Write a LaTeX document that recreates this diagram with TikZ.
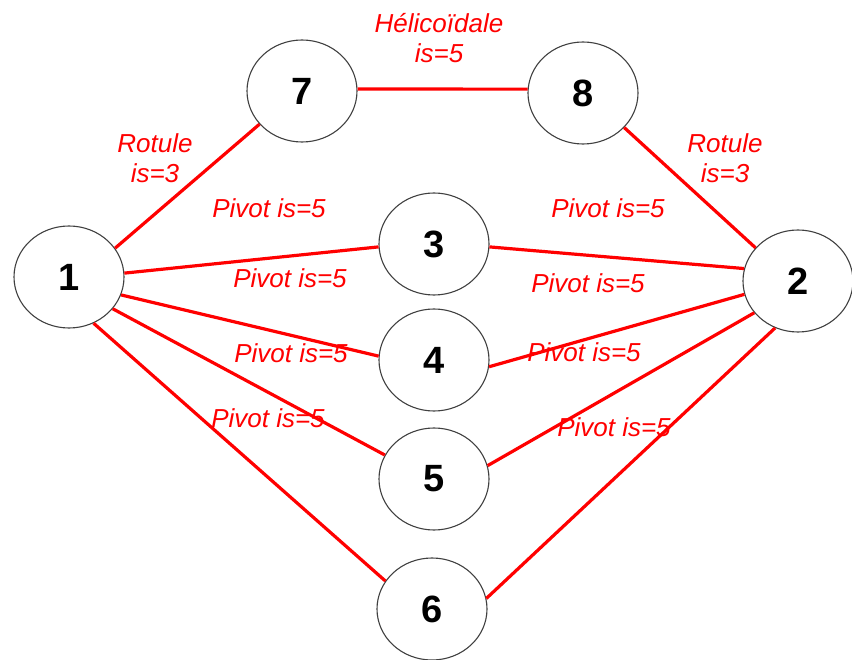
\documentclass[tikz,border=0pt]{standalone}
\usepackage{fontspec}
\setmainfont{Liberation Sans}
\usetikzlibrary{shapes.geometric}
\begin{document}
\begin{tikzpicture}[x=1pt,y=-1pt,
  joint/.style={ellipse, draw=black!75, line width=1.1pt, minimum width=110pt, minimum height=102pt, inner sep=0pt, font=\fontsize{38}{38}\selectfont\bfseries},
  link/.style={red, line width=3.2pt},
  lab/.style={text=red, font=\fontsize{26}{30}\selectfont\itshape, anchor=base, inner sep=0pt, align=center}]
\useasboundingbox (0,0) rectangle (852,660);
\node[joint] (n1) at (69,277) {1};
\node[joint] (n7) at (302,91) {7};
\node[joint] (n8) at (583,93) {8};
\node[joint] (n3) at (434,244) {3};
\node[joint] (n2) at (798,281) {2};
\node[joint] (n4) at (434,360) {4};
\node[joint] (n5) at (434,479) {5};
\node[joint] (n6) at (432,609) {6};
\draw[link] (n1.32) -- (n7.218);
\draw[link] (n7.2) -- (n8.176);
\draw[link] (n8.-40) -- (n2.142);
\draw[link] (n1.4) -- (n3.183);
\draw[link] (n3.-3) -- (n2.167);
\draw[link] (n1.-19) -- (n4.176);
\draw[link] (n4.-7) -- (n2.194);
\draw[link] (n1.-36) -- (n5.154);
\draw[link] (n5.14) -- (n2.216);
\draw[link] (n1.-62) -- (n6.149);
\draw[link] (n6.11) -- (n2.244);
\node[lab] (l78) at (439,63) {Hélicoïdale\\is=5};
\node[lab] (l17) at (155,183) {Rotule\\is=3};
\node[lab] (l82) at (725,183) {Rotule\\is=3};
\node[lab] (l13a) at (269,218) {Pivot is=5};
\node[lab] (l13b) at (290,288) {Pivot is=5};
\node[lab] (l32a) at (608,218) {Pivot is=5};
\node[lab] (l32b) at (588,293) {Pivot is=5};
\node[lab] (l14) at (291,363) {Pivot is=5};
\node[lab] (l15) at (268,428) {Pivot is=5};
\node[lab] (l42) at (584,362) {Pivot is=5};
\node[lab] (l52) at (614,436) {Pivot is=5};
\end{tikzpicture}
\end{document}
